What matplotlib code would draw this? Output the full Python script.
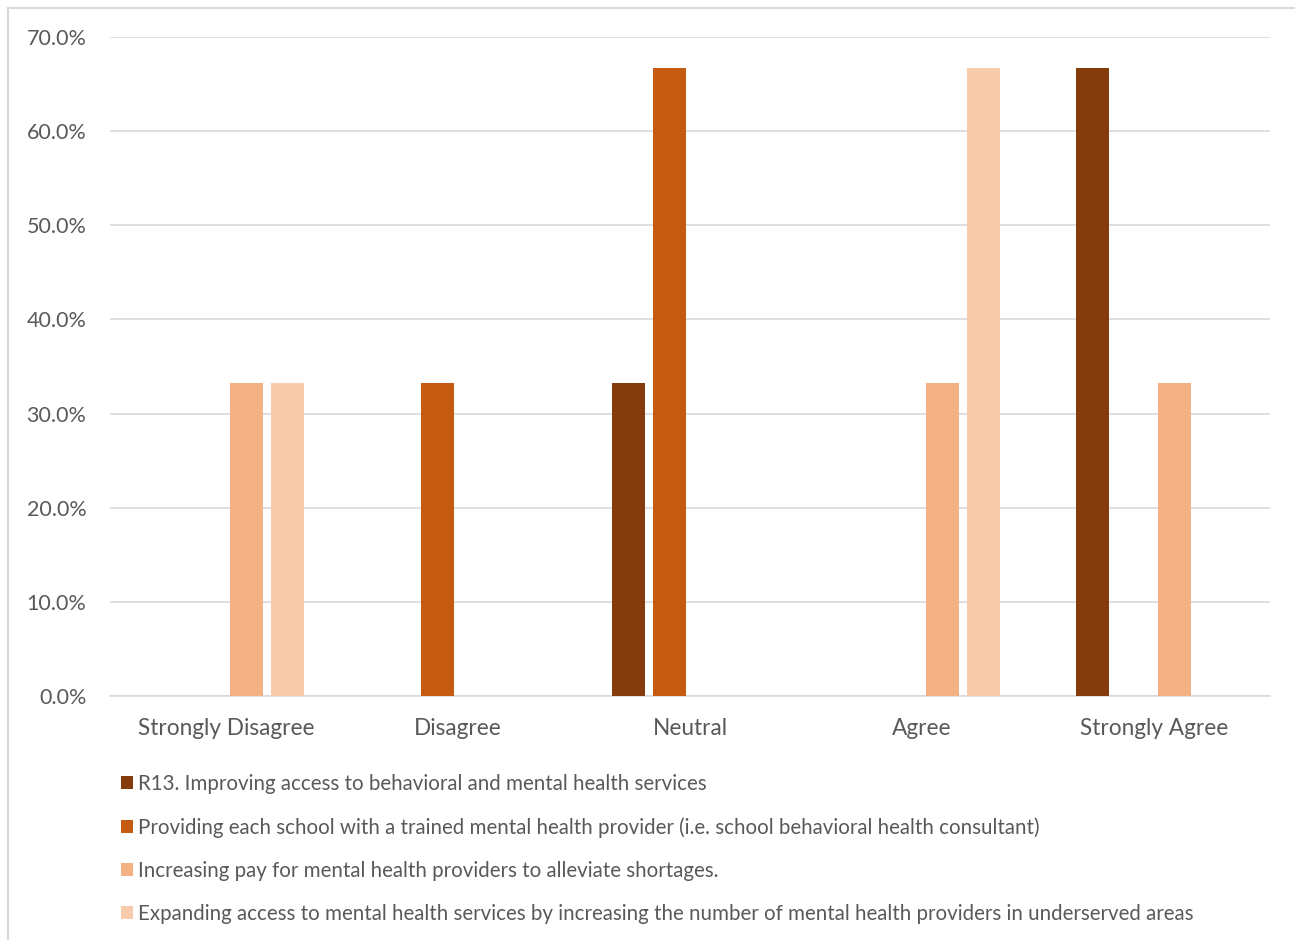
import matplotlib
matplotlib.use("Agg")
import matplotlib.pyplot as plt
import numpy as np
from matplotlib.patches import Rectangle
from matplotlib.ticker import PercentFormatter

categories = ["Strongly Disagree", "Disagree", "Neutral", "Agree", "Strongly Agree"]
series_names = [
    "R13. Improving access to behavioral and mental health services",
    "Providing each school with a trained mental health provider (i.e. school behavioral health consultant)",
    "Increasing pay for mental health providers to alleviate shortages.",
    "Expanding access to mental health services by increasing the number of mental health providers in underserved areas",
]
s1 = [0.0, 0.0, 33.3, 0.0, 66.7]
s2 = [0.0, 33.3, 66.7, 0.0, 0.0]
s3 = [33.3, 0.0, 0.0, 33.3, 33.3]
s4 = [33.3, 0.0, 0.0, 66.7, 0.0]
colors = ["#843C0C", "#C55A11", "#F4B183", "#F8CBAD"]

plt.rcParams['font.family'] = ['Lato', 'DejaVu Sans']
W, H = 1295, 940
fig = plt.figure(figsize=(W/100, H/100), dpi=100)
ax = fig.add_axes([110/W, 1-696/H, 1160/W, 659/H])

x = np.arange(len(categories))
step = 41/232
width = 33/232
handles = []
for i, (vals, c, name) in enumerate(zip([s1, s2, s3, s4], colors, series_names)):
    b = ax.bar(x + (i-1.5)*step, vals, width=width, color=c, label=name, zorder=3)
    handles.append(b)

ax.set_xlim(-0.5, 4.5)
ax.set_ylim(0, 70)
ax.set_yticks(np.arange(0, 71, 10))
ax.yaxis.set_major_formatter(PercentFormatter(decimals=1))
ax.grid(axis='y', color='#D9D9D9', lw=1.2, zorder=0)
for s in ['top', 'right', 'left']:
    ax.spines[s].set_visible(False)
ax.spines['bottom'].set_color('#D9D9D9')
ax.spines['bottom'].set_linewidth(1.2)
ax.tick_params(axis='both', length=0, colors='#595959')
ax.tick_params(axis='y', pad=17, labelsize=15.5)
ax.tick_params(axis='x', pad=16, labelsize=16.3)
ax.set_xticks(x)
ax.set_xticklabels(categories)

leg = fig.legend(handles=handles, labels=series_names, loc='upper left',
                 bbox_to_anchor=(121/W, 1-774/H), frameon=False, ncol=1,
                 fontsize=14.8, handlelength=0.6, handleheight=0.6, handletextpad=0.25,
                 labelspacing=1.12, borderpad=0, borderaxespad=0)
for t in leg.get_texts():
    t.set_color('#595959')

fig.patches.append(Rectangle((8/W, -0.1), 1.2, 1-8/H+0.1, transform=fig.transFigure,
                             fill=False, edgecolor='#D9D9D9', lw=1.5))

fig.savefig("out.png", dpi=100)
